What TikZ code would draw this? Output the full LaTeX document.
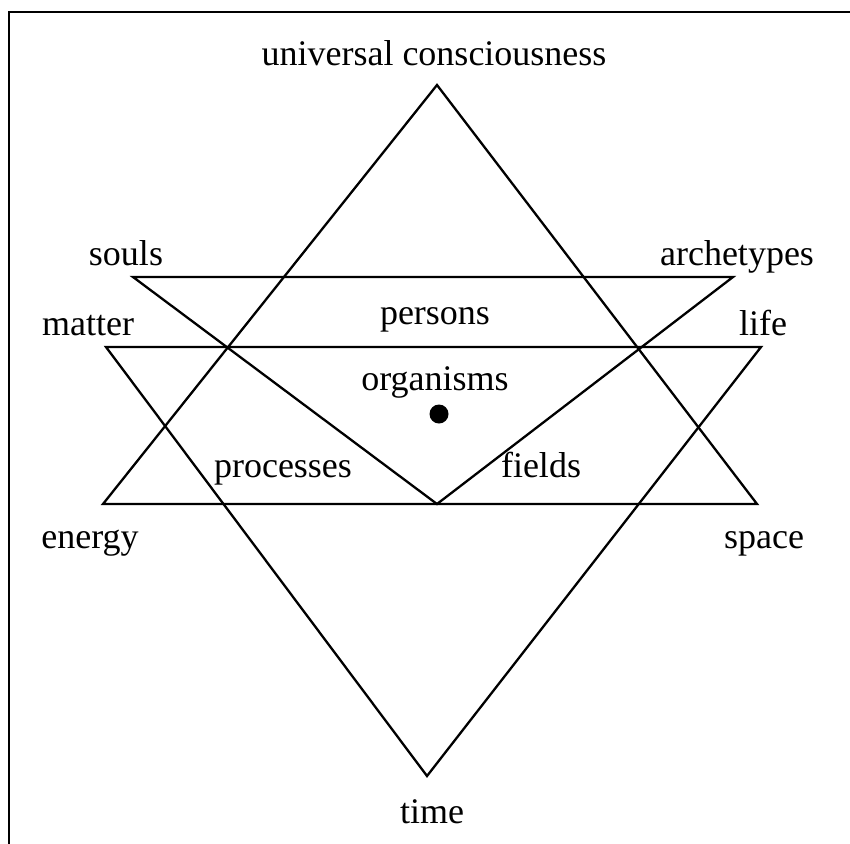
\documentclass[tikz,border=0pt]{standalone}
\usepackage{fontspec}
\setmainfont{Liberation Serif}
\begin{document}
\begin{tikzpicture}[x=1pt,y=-1pt,
  edge/.style={line width=2.3pt, line join=miter},
  frame/.style={line width=2.6pt},
  lbl/.style={font=\fontsize{36}{40}\selectfont, inner sep=0pt, anchor=base}]
\useasboundingbox (0,0) rectangle (850,843);
% frame (top and left only)
\coordinate (fbl) at (9,844);
\coordinate (ftl) at (9,12);
\coordinate (ftr) at (851,12);
\draw[frame] (fbl) -- (ftl) -- (ftr);
% vertices
\coordinate (apex) at (437,85);
\coordinate (energy) at (103,504);
\coordinate (space) at (757,504);
\coordinate (souls) at (133,277);
\coordinate (arche) at (733,277);
\coordinate (vtx) at (437,504);
\coordinate (matter) at (106,347);
\coordinate (life) at (761,347);
\coordinate (time) at (427,776);
% triangles
\draw[edge] (apex) -- (energy) -- (space) -- cycle;
\draw[edge] (souls) -- (arche) -- (vtx) -- cycle;
\draw[edge] (matter) -- (life) -- (time) -- cycle;
% dot
\fill (439,414) circle (9.5);
% labels
\node[lbl] (tuc) at (434,65) {universal consciousness};
\node[lbl] (tsouls) at (126,265) {souls};
\node[lbl] (tarche) at (737,265) {archetypes};
\node[lbl] (tmatter) at (88,335) {matter};
\node[lbl] (tlife) at (763,335) {life};
\node[lbl] (tpersons) at (435,324) {persons};
\node[lbl] (torg) at (435,390) {organisms};
\node[lbl] (tproc) at (283,477) {processes};
\node[lbl] (tfields) at (541,477) {fields};
\node[lbl] (tenergy) at (90,548) {energy};
\node[lbl] (tspace) at (764,548) {space};
\node[lbl] (ttime) at (432,823) {time};
\end{tikzpicture}
\end{document}
